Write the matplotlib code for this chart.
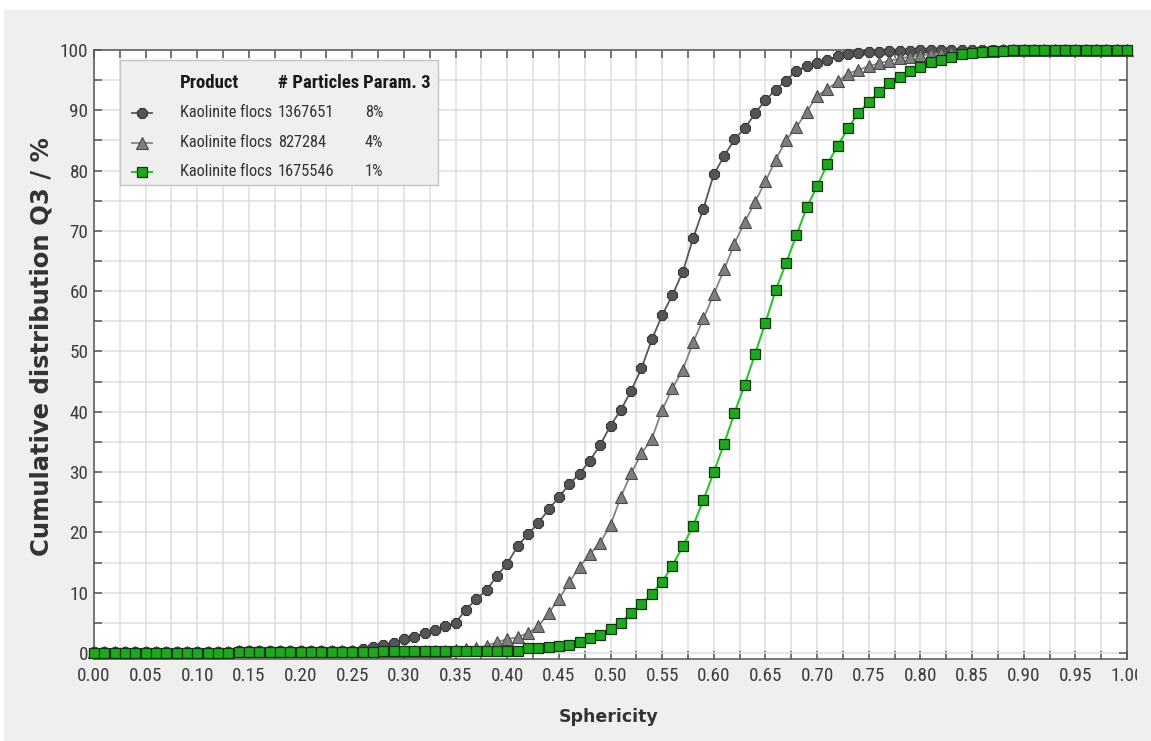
import numpy as np
import matplotlib
matplotlib.use("Agg")
import matplotlib.pyplot as plt
from matplotlib.patches import Rectangle
from matplotlib.ticker import MultipleLocator
from matplotlib.transforms import Bbox

# Esfericidad (eje x) y distribuciones acumuladas Q3 (%)
esfericidad = np.linspace(0, 1, 101)

q3_8 = [
    0.1, 0.1, 0.1, 0.1, 0.1, 0.1, 0.1, 0.1, 0.1, 0.1,
    0.1, 0.1, 0.1, 0.1, 0.4, 0.4, 0.4, 0.4, 0.4, 0.4,
    0.4, 0.4, 0.4, 0.4, 0.4, 0.4, 0.7, 1.0, 1.3, 1.7,
    2.3, 2.7, 3.3, 3.8, 4.4, 5.0, 7.2, 8.9, 10.4, 12.8,
    14.8, 17.7, 19.7, 21.5, 23.8, 25.8, 28.0, 29.7, 31.9, 34.5,
    37.7, 40.3, 43.5, 47.2, 52.0, 56.0, 59.4, 63.2, 68.8, 73.7,
    79.4, 82.4, 85.2, 87.0, 89.5, 91.7, 93.4, 94.9, 96.6, 97.3,
    97.8, 98.3, 99.0, 99.3, 99.5, 99.6, 99.7, 99.8, 99.85, 99.9,
    100, 100, 100, 100, 100, 100, 100, 100, 100, 100,
    100, 100, 100, 100, 100, 100, 100, 100, 100, 100,
    100,
]

q3_4 = [
    0.1, 0.1, 0.1, 0.1, 0.1, 0.1, 0.1, 0.1, 0.1, 0.1,
    0.1, 0.1, 0.1, 0.1, 0.3, 0.3, 0.3, 0.3, 0.3, 0.3,
    0.3, 0.3, 0.3, 0.3, 0.3, 0.3, 0.3, 0.3, 0.3, 0.3,
    0.3, 0.3, 0.3, 0.3, 0.4, 0.5, 0.6, 0.8, 1.2, 1.8,
    2.3, 2.6, 3.3, 4.4, 6.6, 8.9, 11.7, 14.3, 16.4, 18.3,
    21.2, 25.9, 29.8, 33.1, 35.5, 40.3, 43.9, 47.0, 51.5, 55.5,
    59.5, 63.6, 67.9, 71.5, 74.8, 78.2, 81.8, 85.1, 87.2, 89.8,
    92.4, 93.5, 94.8, 96.1, 96.7, 97.3, 97.8, 98.2, 98.6, 98.9,
    99.1, 99.3, 99.5, 99.6, 99.7, 99.8, 99.85, 99.9, 100, 100,
    100, 100, 100, 100, 100, 100, 100, 100, 100, 100,
    100,
]

q3_1 = [
    0.0, 0.0, 0.0, 0.0, 0.0, 0.0, 0.0, 0.0, 0.0, 0.0,
    0.0, 0.0, 0.0, 0.0, 0.2, 0.2, 0.2, 0.2, 0.2, 0.2,
    0.2, 0.2, 0.2, 0.2, 0.2, 0.2, 0.2, 0.2, 0.4, 0.4,
    0.4, 0.4, 0.4, 0.4, 0.4, 0.4, 0.4, 0.4, 0.4, 0.4,
    0.4, 0.4, 0.8, 0.8, 1.0, 1.2, 1.3, 1.9, 2.4, 3.0,
    3.9, 5.0, 6.7, 8.1, 9.8, 11.8, 14.5, 17.7, 21.1, 25.4,
    30.0, 34.7, 39.8, 44.5, 49.6, 54.8, 60.2, 64.7, 69.3, 73.9,
    77.4, 81.1, 84.1, 87.0, 89.6, 91.3, 93.1, 94.5, 95.6, 96.6,
    97.2, 98.0, 98.4, 98.9, 99.3, 99.5, 99.7, 99.8, 99.85, 100,
    100, 100, 100, 100, 100, 100, 100, 100, 100, 100,
    100,
]

# Tabla de la leyenda
encabezados = ["Product", "# Particles", "Param. 3"]
productos = ["Kaolinite flocs", "Kaolinite flocs", "Kaolinite flocs"]
particulas = ["1367651", "827284", "1675546"]
param3 = ["8%", "4%", "1%"]

fuente = ["Roboto Condensed", "Liberation Sans"]
plt.rcParams["font.family"] = fuente

W, H = 1151, 741
fig = plt.figure(figsize=(W / 100, H / 100), dpi=100, facecolor="white")
# fondo gris de la ventana
fig.patches.append(Rectangle((4 / W, 0), 1 - 4 / W, 731 / H, transform=fig.transFigure,
                             facecolor="#efefef", edgecolor="none", zorder=-10))

ax = fig.add_axes([94 / W, 1 - 659 / H, 1033 / W, 609 / H])
ax.set_facecolor("white")

# estilos de cada serie
estilos = [
    dict(marker="8", ms=7.6, color="#575757", mfc="#555555", mec="#383838", mew=0.8, lw=1.3),
    dict(marker="^", ms=9.0, color="#858585", mfc="#7e7e7e", mec="#4a4a4a", mew=0.8, lw=1.3),
    dict(marker="s", ms=6.8, color="#2ec42e", mfc="#1fa71f", mec="#103810", mew=0.9, lw=1.5),
]
series = [q3_8, q3_4, q3_1]

for i, (datos, est) in enumerate(zip(series, estilos)):
    ax.plot(esfericidad, datos, clip_on=False, zorder=3 + i, **est)

ax.set_xlim(0, 1.0)
ax.set_ylim(-1.0, 100)
ax.xaxis.set_major_locator(MultipleLocator(0.05))
ax.xaxis.set_minor_locator(MultipleLocator(0.025))
ax.yaxis.set_major_locator(MultipleLocator(10))
ax.yaxis.set_minor_locator(MultipleLocator(5))
ax.xaxis.set_major_formatter(lambda v, p: f"{v:.2f}")

ax.grid(which="both", color="#dedede", lw=1.1)
ax.set_axisbelow(True)
ax.tick_params(which="both", direction="in", length=5.8, width=1.1, color="#555555",
               top=True, right=True)
ax.tick_params(which="major", labelsize=13.8, labelcolor="#3c3c3c")
ax.tick_params(axis="x", pad=6)
ax.tick_params(axis="y", pad=4)
for s in ax.spines.values():
    s.set_color("#555555")
    s.set_linewidth(1.1)

fig.text(42 / W, 1 - 347 / H, "Cumulative distribution Q3 / %", rotation=90,
         ha="center", va="center", fontsize=17.5, fontweight="bold",
         family="DejaVu Sans", color="#333333")
fig.text(609 / W, 1 - 717 / H, "Sphericity", ha="center", va="center",
         fontsize=12.5, fontweight="bold", family="DejaVu Sans", color="#333333")

# leyenda en forma de tabla
ax.add_patch(Rectangle((0.0252, 0.778), 0.308, 0.2056, transform=ax.transAxes,
                       facecolor="#efefef", edgecolor="#c4c4c4", lw=1.0, zorder=10))
col_x = [0.0833, 0.178, 0.2603]
for x, t in zip(col_x, encabezados):
    ax.text(x, 0.9458, t, transform=ax.transAxes, fontsize=13.5, fontweight="bold",
            color="#1a1a1a", va="center", ha="left", zorder=11)

filas_y = [0.8966, 0.8473, 0.7997]
for y, est, prod, npart, p3 in zip(filas_y, estilos, productos, particulas, param3):
    ax.plot([0.0368, 0.0465, 0.0561], [y, y, y], transform=ax.transAxes,
            markevery=[1], clip_on=False, zorder=11, **est)
    ax.text(col_x[0], y, prod, transform=ax.transAxes, fontsize=11.8, color="#333333",
            va="center", ha="left", zorder=11)
    ax.text(col_x[1], y, npart, transform=ax.transAxes, fontsize=11.8, color="#333333",
            va="center", ha="left", zorder=11)
    ax.text(0.262, y, p3, transform=ax.transAxes, fontsize=11.8, color="#333333",
            va="center", ha="left", zorder=11)

# la etiqueta 1.00 queda cortada por el borde derecho
fig.canvas.draw()
for lbl in ax.get_xticklabels():
    if lbl.get_text() == "1.00":
        lbl.set_clip_on(True)
        lbl.set_clip_box(Bbox([[0, 0], [1137, H]]))

fig.savefig("out.png", dpi=100, facecolor=fig.get_facecolor())
